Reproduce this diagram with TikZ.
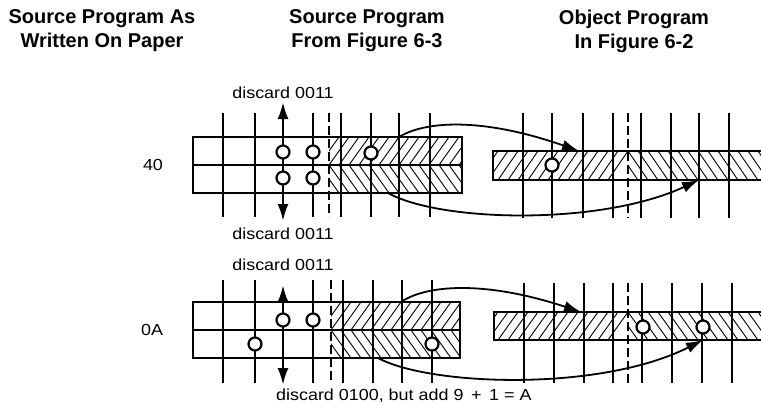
\documentclass[tikz,border=0pt]{standalone}
\usepackage{fontspec}
\setmainfont{Liberation Sans}
\newfontfamily\lblfont[FakeStretch=1.12]{Liberation Sans}
\usetikzlibrary{arrows.meta}
\begin{document}
\begin{tikzpicture}[x=1pt,y=-1pt,
 head/.style={font=\fontsize{20}{24}\selectfont\bfseries, align=center, inner sep=0},
 lbl/.style={font=\lblfont\fontsize{16}{18}\selectfont, inner sep=0},
 vline/.style={line width=2.6pt},
 dline/.style={line width=2.6pt, dash pattern=on 9pt off 4pt},
 tapeborder/.style={line width=2.8pt},
 midline/.style={line width=1.7pt},
 hatch/.style={line width=0.9pt},
 hole/.style={circle, draw, fill=white, line width=2.2pt, minimum size=13pt, inner sep=0},
 arc/.style={line width=1.8pt, -{Latex[length=17pt,width=11pt]}},
 varr/.style={line width=2.6pt, {Latex[length=17pt,width=11pt]}-{Latex[length=17pt,width=11pt]}},
]
\useasboundingbox (0,0) rectangle (761,407);

% headings
\node[head] (h1) at (102,31) {Source Program As\\Written On Paper};
\node[head] (h2) at (367,31) {Source Program\\From Figure 6-3};
\node[head] (h3) at (634,31) {Object Program\\In Figure 6-2};

% ================= top section (40) =================
\node[lbl] (v40) at (153,165) {40};
\fill[white] (193,137) rectangle (462,193);
\begin{scope}
 \clip (329,137) rectangle (462,165);
 \foreach \x in {299,309,...,469} \draw[hatch] (\x,165) -- ++(20,-28);
\end{scope}
\begin{scope}
 \clip (329,165) rectangle (462,193);
 \foreach \x in {319,329,...,469} \draw[hatch] (\x,165) -- ++(20,28);
\end{scope}
\begin{scope}
 \clip (493,151) rectangle (628,180);
 \foreach \x in {458,468,...,608} \draw[hatch] (\x,180) -- ++(20,-29);
\end{scope}
\begin{scope}
 \clip (628,151) rectangle (761,180);
 \foreach \x in {618,628,...,768} \draw[hatch] (\x,151) -- ++(20,29);
\end{scope}
\foreach \x in {223,255,313,341,371,399,430} \draw[vline] (\x,113) -- (\x,217);
\draw[dline] (329,113) -- (329,217);
\foreach \x in {523,552,583,613,641,671,699,729} \draw[vline] (\x,113) -- (\x,218);
\draw[dline] (628,113) -- (628,218);
\draw[tapeborder] (193,137) rectangle (462,193);
\draw[midline] (193,165) -- (462,165);
\draw[tapeborder] (765,151) -- (493,151) -- (493,180) -- (765,180);
\coordinate (tu1) at (283,102);
\coordinate (td1) at (283,221);
\draw[varr] (tu1) -- (td1);
\node[lbl] (dt1) at (283,93) {discard 0011};
\node[lbl] (db1) at (283,234) {discard 0011};
\node[hole] (a1) at (283,152) {};
\node[hole] (a2) at (313,152) {};
\node[hole] (a3) at (283,178) {};
\node[hole] (a4) at (313,178) {};
\node[hole] (a5) at (371,153) {};
\node[hole] (a6) at (552,165) {};
\coordinate (s1) at (399,137);
\coordinate (e1) at (579,151);
\coordinate (s2) at (388,193);
\coordinate (e2) at (699,180);
\draw[arc] (s1) .. controls (425,121) and (482,117) .. (e1);
\draw[arc] (s2) .. controls (440,222) and (600,226) .. (e2);

% ================= bottom section (0A) =================
\node[lbl] (v0A) at (152,330) {0A};
\fill[white] (193,302) rectangle (460,358);
\begin{scope}
 \clip (331,302) rectangle (460,330);
 \foreach \x in {301,311,...,471} \draw[hatch] (\x,330) -- ++(20,-28);
\end{scope}
\begin{scope}
 \clip (331,330) rectangle (460,358);
 \foreach \x in {321,331,...,471} \draw[hatch] (\x,330) -- ++(20,28);
\end{scope}
\begin{scope}
 \clip (494,312) rectangle (628,340);
 \foreach \x in {458,468,...,608} \draw[hatch] (\x,340) -- ++(20,-28);
\end{scope}
\begin{scope}
 \clip (628,312) rectangle (761,340);
 \foreach \x in {618,628,...,768} \draw[hatch] (\x,312) -- ++(20,28);
\end{scope}
\foreach \x in {223,255,313,343,373,402,432} \draw[vline] (\x,280) -- (\x,383);
\draw[dline] (331,280) -- (331,383);
\foreach \x in {524,554,584,613,642,672,702,732} \draw[vline] (\x,283) -- (\x,383);
\draw[dline] (628,283) -- (628,383);
\draw[tapeborder] (193,302) rectangle (460,358);
\draw[midline] (193,330) -- (460,330);
\draw[tapeborder] (765,312) -- (494,312) -- (494,340) -- (765,340);
\coordinate (tu2) at (283,285);
\coordinate (td2) at (283,385);
\draw[varr] (tu2) -- (td2);
\node[lbl] (dt2) at (283,265) {discard 0011};
\node[lbl, anchor=west] (db2) at (276,396) {discard 0100, but add 9 \,+\, 1 = A};
\node[hole] (b1) at (283,320) {};
\node[hole] (b2) at (313,320) {};
\node[hole] (b3) at (255,344) {};
\node[hole] (b4) at (432,344) {};
\node[hole] (b5) at (643,327) {};
\node[hole] (b6) at (703,327) {};
\coordinate (s3) at (401,302);
\coordinate (e3) at (581,312);
\coordinate (s4) at (378,358);
\coordinate (e4) at (703,340);
\draw[arc] (s3) .. controls (426,285) and (484,280) .. (e3);
\draw[arc] (s4) .. controls (430,386) and (600,392) .. (e4);
\end{tikzpicture}
\end{document}
